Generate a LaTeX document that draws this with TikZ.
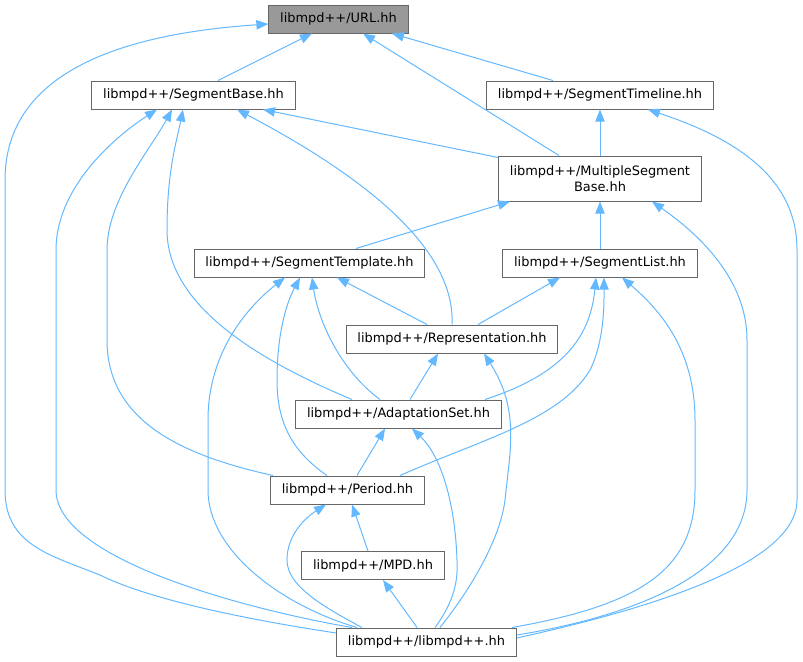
\documentclass[tikz,border=0pt]{standalone}
\usepackage{fontspec}
\setmainfont{DejaVu Sans}
\usetikzlibrary{arrows.meta}
\definecolor{edgeblue}{HTML}{63B8FF}
\definecolor{boxline}{HTML}{666666}
\definecolor{urlfill}{HTML}{999999}

\begin{document}
\begin{tikzpicture}[x=0.75pt,y=-0.75pt,
  file/.style={draw=boxline, line width=0.75pt, fill=white, inner xsep=8.5pt,
    inner ysep=0pt, minimum height=21pt, align=center,
    font=\fontsize{9.7}{12}\selectfont},
  inc/.style={draw=edgeblue, line width=0.75pt, -{Triangle[length=9pt,width=7pt]}}]
\useasboundingbox (0,0) rectangle (803,661);

\node (url) at (338.5,19) [file, fill=urlfill] {libmpd++/URL.hh};
\node (segbase) at (193.5,95) [file] {libmpd++/SegmentBase.hh};
\node (segtimeline) at (600,95) [file] {libmpd++/SegmentTimeline.hh};
\node (multiseg) at (600,178.5) [file, minimum height=33.75pt] {libmpd++/MultipleSegment\\Base.hh};
\node (segtemplate) at (309.5,263) [file] {libmpd++/SegmentTemplate.hh};
\node (seglist) at (600,263) [file] {libmpd++/SegmentList.hh};
\node (repr) at (452,339) [file] {libmpd++/Representation.hh};
\node (adaptset) at (398.5,414) [file] {libmpd++/AdaptationSet.hh};
\node (period) at (347.5,490) [file] {libmpd++/Period.hh};
\node (mpd) at (373,565.5) [file] {libmpd++/MPD.hh};
\node (libmpd) at (426.5,642) [file] {libmpd++/libmpd++.hh};

% includes of URL.hh
\draw[inc] ([xshift=18.4pt]segbase.north) -- ([xshift=-19.9pt]url.south);
\draw[inc] ([xshift=-35.25pt]segtimeline.north) -- ([xshift=40.1pt]url.south);
\draw[inc] ([xshift=-30.75pt]multiseg.north) -- ([xshift=18.4pt]url.south);
\draw[inc] ([yshift=6.75pt]libmpd.west) .. controls (250,620) and (150,600) .. (100,575)
  .. controls (50,555) and (5,545) .. (5,490) -- (5,180)
  .. controls (5,60) and (150,32) .. ([yshift=-3.75pt]url.west);

% includes of SegmentBase.hh
\draw[inc] ([yshift=-1.5pt]multiseg.north west) -- ([xshift=52.1pt]segbase.south);
\draw[inc] (repr.north) .. controls (455,260) and (390,190) .. ([xshift=32.6pt]segbase.south);
\draw[inc] ([xshift=-34.9pt]adaptset.north) .. controls (270,365) and (167,310) .. (167,230)
  .. controls (167,170) and (177,140) .. ([xshift=-7.9pt]segbase.south);
\draw[inc] ([xshift=-55.9pt]period.north) .. controls (180,455) and (107,420) .. (107,340)
  -- (107,250) .. controls (107,200) and (150,150) .. ([xshift=-16.1pt]segbase.south);
\draw[inc] ([xshift=-55.9pt]libmpd.north) .. controls (250,610) and (56,560) .. (56,490)
  -- (56,250) .. controls (56,190) and (110,140) .. ([xshift=-27.4pt]segbase.south);

% includes of SegmentTimeline.hh
\draw[inc] (multiseg.north) -- (segtimeline.south);
\draw[inc] ([yshift=3pt]libmpd.east) .. controls (620,615) and (797,570) .. (797,500)
  -- (797,250) .. controls (797,180) and (740,140) .. ([xshift=36pt]segtimeline.south);

% includes of MultipleSegmentBase.hh
\draw[inc] ([xshift=34.9pt]segtemplate.north) -- ([xshift=-67.5pt]multiseg.south);
\draw[inc] (seglist.north) -- (multiseg.south);
\draw[inc] ([yshift=5.25pt]libmpd.east) .. controls (640,615) and (747,570) .. (747,490)
  -- (747,340) .. controls (747,280) and (700,235) .. ([xshift=39pt]multiseg.south);

% includes of SegmentTemplate.hh
\draw[inc] ([xshift=-18.75pt]repr.north) -- ([xshift=20.6pt]segtemplate.south);
\draw[inc] ([xshift=-13.9pt]adaptset.north) .. controls (340,370) and (318,320) .. ([xshift=1.9pt]segtemplate.south);
\draw[inc] ([xshift=-15.4pt]period.north) .. controls (290,450) and (277,420) .. (277,380)
  .. controls (277,330) and (288,300) .. ([xshift=-7.1pt]segtemplate.south);
\draw[inc] ([xshift=-52.1pt]libmpd.north) .. controls (280,605) and (208,550) .. (208,490)
  -- (208,420) .. controls (208,350) and (250,305) .. ([xshift=-18.4pt]segtemplate.south);

% includes of SegmentList.hh
\draw[inc] ([xshift=19.5pt]repr.north) -- ([xshift=-30pt]seglist.south);
\draw[inc] ([xshift=64.9pt]adaptset.north) .. controls (560,375) and (590,340) .. ([xshift=-3pt]seglist.south);
\draw[inc] ([xshift=39.4pt]period.north) .. controls (480,440) and (560,420) .. (590,370)
  .. controls (605,340) and (604,300) .. ([xshift=3pt]seglist.south);
\draw[inc] ([xshift=64.1pt]libmpd.north) .. controls (640,605) and (695,570) .. (695,490)
  -- (695,420) .. controls (695,350) and (660,310) .. ([xshift=16.5pt]seglist.south);

% includes of Representation.hh
\draw[inc] ([xshift=8.6pt]adaptset.north) -- ([xshift=-10.5pt]repr.south);
\draw[inc] ([xshift=10.1pt]libmpd.north) .. controls (470,590) and (500,540) .. (505,500)
  .. controls (510,450) and (520,410) .. ([xshift=24pt]repr.south);

% includes of AdaptationSet.hh
\draw[inc] ([xshift=7.1pt]period.north) -- ([xshift=-10.1pt]adaptset.south);
\draw[inc] ([xshift=6.4pt]libmpd.north) .. controls (455,600) and (458,580) .. (457,560)
  .. controls (455,500) and (440,455) .. ([xshift=10.1pt]adaptset.south);

% includes of Period.hh and MPD.hh
\draw[inc] ([xshift=-3.75pt]mpd.north) -- ([xshift=3.4pt]period.south);
\draw[inc] ([xshift=-48.4pt]libmpd.north) .. controls (320,605) and (287,585) .. (287,560)
  .. controls (287,535) and (305,518) .. ([xshift=-16.1pt]period.south);
\draw[inc] ([xshift=-7.1pt]libmpd.north) -- ([xshift=7.5pt]mpd.south);
\end{tikzpicture}
\end{document}
